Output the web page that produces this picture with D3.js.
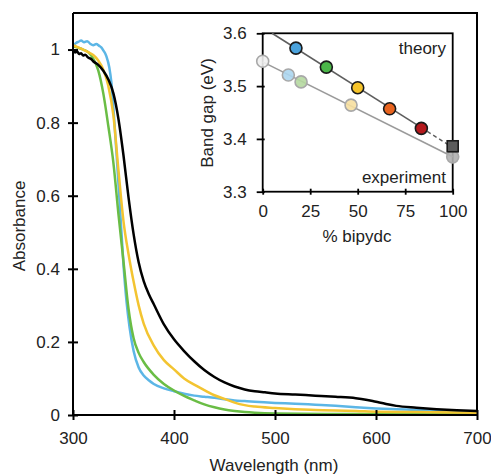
<!DOCTYPE html>
<html>
<head>
<meta charset="utf-8">
<script src="https://cdn.jsdelivr.net/npm/d3@7"></script>
<style>
  html, body { margin: 0; padding: 0; background: #fff; }
  svg { display: block; font-family: "Liberation Sans", Arial, sans-serif; }
</style>
</head>
<body>
<svg id="chart" width="491" height="474"></svg>
<script>
// ---------- Main chart data (absorbance spectra) ----------
const blueWavelength = [300,303,306,308,311,314,317,320,323,326,328,330,333,336,338,340,343,346,350,353,356,360,365,370,375,380,390,400,410,420,430,440,450,460,470,480,500,520,540,560,580,600,620,640,660,680,700];
const blueAbsorbance = [1.01,1.018,1.022,1.025,1.02,1.023,1.016,1.012,1.015,1.01,1.006,0.998,0.982,0.95,0.91,0.84,0.72,0.59,0.41,0.31,0.24,0.175,0.13,0.108,0.095,0.085,0.073,0.065,0.058,0.053,0.05,0.047,0.043,0.04,0.038,0.036,0.033,0.031,0.028,0.025,0.021,0.018,0.016,0.014,0.012,0.01,0.009];

const greenWavelength = [300,305,310,315,320,325,330,335,340,345,350,355,360,365,370,380,390,400,410,420,430,440,450,460,470,480,500,550,600,650,700];
const greenAbsorbance = [1.008,1.005,1.0,0.993,0.975,0.943,0.88,0.79,0.69,0.55,0.42,0.29,0.21,0.17,0.145,0.11,0.085,0.067,0.052,0.04,0.029,0.021,0.015,0.011,0.008,0.006,0.004,0.003,0.003,0.002,0.002];

const yellowWavelength = [300,305,310,315,320,325,330,335,340,345,350,355,360,365,370,380,390,400,410,420,430,440,450,460,470,480,500,520,540,560,580,600,640,700];
const yellowAbsorbance = [1.012,1.006,1.0,0.993,0.985,0.97,0.945,0.9,0.82,0.67,0.53,0.44,0.365,0.3,0.25,0.19,0.15,0.125,0.1,0.083,0.068,0.054,0.044,0.034,0.027,0.023,0.019,0.016,0.014,0.012,0.011,0.009,0.008,0.006];

const blackWavelength = [300,302,304,306,308,310,312,315,318,320,325,330,335,340,345,350,355,360,365,370,375,380,390,400,410,420,430,440,450,460,470,480,490,500,520,540,560,580,590,600,610,620,640,660,680,700];
const blackAbsorbance = [1.0,0.992,0.995,0.988,0.99,0.984,0.986,0.978,0.974,0.968,0.958,0.942,0.918,0.88,0.81,0.71,0.595,0.495,0.418,0.366,0.331,0.303,0.248,0.207,0.175,0.147,0.123,0.104,0.089,0.078,0.07,0.065,0.062,0.059,0.056,0.053,0.05,0.046,0.042,0.036,0.03,0.025,0.02,0.016,0.013,0.011];

const seriesNames = ["blue", "green", "yellow", "black"];
const seriesColors = ["#5cb6e6", "#6abd45", "#f3c431", "#000000"];

const xTicks = [300, 400, 500, 600, 700];
const yTicks = [0, 0.2, 0.4, 0.6, 0.8, 1];

// ---------- Inset data (band gap) ----------
const theoryPct = [17.5, 33.5, 50, 66.8, 83.5];
const theoryGap = [3.572, 3.536, 3.497, 3.457, 3.42];
const theoryColors = ["#4aa2dc", "#4bb649", "#f6c42a", "#e8641f", "#b4191d"];
const theoryEndPct = [100];
const theoryEndGap = [3.386];

const experimentPct = [0, 13.5, 20.2, 46.5, 100];
const experimentGap = [3.547, 3.521, 3.508, 3.464, 3.366];
const experimentColors = ["#f0f0f0", "#acd6f0", "#b5d8a0", "#f6dfa0", "#b0b0b0"];

const insetXTicks = [0, 25, 50, 75, 100];
const insetYTicks = [3.3, 3.4, 3.5, 3.6];

// ---------- Layout ----------
const svg = d3.select("#chart");
const W = 491, H = 474;
const m = { left: 73, top: 13, right: 14, bottom: 59 };

const x = d3.scaleLinear().domain([300, 700]).range([m.left, W - m.right]);
const y = d3.scaleLinear().domain([0, 1.1]).range([H - m.bottom, m.top]);

const FONT = 17;

// frame (top and right)
svg.append("path")
  .attr("d", `M${x(300)},${y(1.1)}H${x(700)}V${y(0)}`)
  .attr("fill", "none").attr("stroke", "#000").attr("stroke-width", 2);

// curves
const line = d3.line().x(d => x(d[0])).y(d => y(d[1])).curve(d3.curveMonotoneX);
const seriesData = [
  d3.zip(blueWavelength, blueAbsorbance),
  d3.zip(greenWavelength, greenAbsorbance),
  d3.zip(yellowWavelength, yellowAbsorbance),
  d3.zip(blackWavelength, blackAbsorbance)
];
seriesData.forEach((pts, i) => {
  svg.append("path")
    .datum(pts)
    .attr("class", "series " + seriesNames[i])
    .attr("d", line)
    .attr("fill", "none")
    .attr("stroke", seriesColors[i])
    .attr("stroke-width", 2.5)
    .attr("stroke-linejoin", "round");
});

// axes
const xAxis = svg.append("g")
  .attr("transform", `translate(0,${y(0)})`)
  .call(d3.axisBottom(x).tickValues(xTicks).tickSize(5).tickPadding(12).tickFormat(d3.format("d")));
xAxis.selectAll(".tick line").attr("y1", -5).attr("y2", 5);
const yAxis = svg.append("g")
  .attr("transform", `translate(${x(300)},0)`)
  .call(d3.axisLeft(y).tickValues(yTicks).tickSize(5).tickPadding(8).tickFormat(d3.format("~g")));
yAxis.selectAll(".tick line").attr("x1", -5).attr("x2", 5);

[xAxis, yAxis].forEach(g => {
  g.select(".domain").attr("stroke", "#000").attr("stroke-width", 2);
  g.selectAll(".tick line").attr("stroke", "#000").attr("stroke-width", 2);
  g.selectAll(".tick text").attr("font-size", FONT).attr("fill", "#222")
    .attr("font-family", "Liberation Sans, Arial, sans-serif");
});
xAxis.select(".domain").attr("d", `M${x(300)},0H${x(700)}`);
yAxis.select(".domain").attr("d", `M0,${y(0)}V${y(1.1)}`);

svg.append("text")
  .attr("transform", `translate(25,226) rotate(-90)`)
  .attr("text-anchor", "middle").attr("font-size", FONT).attr("fill", "#222")
  .text("Absorbance");
svg.append("text")
  .attr("x", 274).attr("y", 471)
  .attr("text-anchor", "middle").attr("font-size", FONT).attr("fill", "#222")
  .text("Wavelength (nm)");

// ---------- Inset ----------
const ix = d3.scaleLinear().domain([0, 100]).range([262.7, 452.7]);
const iy = d3.scaleLinear().domain([3.3, 3.6]).range([191.7, 33.3]);

svg.append("rect")
  .attr("x", ix(0)).attr("y", iy(3.6))
  .attr("width", ix(100) - ix(0)).attr("height", iy(3.3) - iy(3.6))
  .attr("fill", "#fff").attr("stroke", "#000").attr("stroke-width", 1.8);

function fit(xs, ys) {
  const mx = d3.mean(xs), my = d3.mean(ys);
  let num = 0, den = 0;
  xs.forEach((v, i) => { num += (v - mx) * (ys[i] - my); den += (v - mx) * (v - mx); });
  const b = num / den; const a = my - b * mx;
  return v => a + b * v;
}
const allTheoryPct = theoryPct.concat(theoryEndPct);
const allTheoryGap = theoryGap.concat(theoryEndGap);
const tf = fit(allTheoryPct, allTheoryGap);
const tStart = d3.scaleLinear().domain([tf(0), tf(100)]).range([0, 100])(3.6);
const tMid = theoryPct[theoryPct.length - 1];

const ef = fit(experimentPct, experimentGap);

svg.append("line")
  .attr("x1", ix(0)).attr("y1", iy(ef(0)))
  .attr("x2", ix(100)).attr("y2", iy(ef(100)))
  .attr("stroke", "#9b9b9b").attr("stroke-width", 1.6);
svg.append("line")
  .attr("x1", ix(tStart)).attr("y1", iy(tf(tStart)))
  .attr("x2", ix(tMid)).attr("y2", iy(tf(tMid)))
  .attr("stroke", "#5e5e5e").attr("stroke-width", 1.6);
svg.append("line")
  .attr("x1", ix(tMid)).attr("y1", iy(tf(tMid)))
  .attr("x2", ix(100)).attr("y2", iy(tf(100)))
  .attr("stroke", "#5e5e5e").attr("stroke-width", 1.4)
  .attr("stroke-dasharray", "4,3");

svg.append("g").selectAll("circle")
  .data(d3.zip(experimentPct, experimentGap, experimentColors))
  .join("circle")
  .attr("cx", d => ix(d[0])).attr("cy", d => iy(d[1])).attr("r", 6)
  .attr("fill", d => d[2]).attr("stroke", "#a8a8a8").attr("stroke-width", 1.6)
  .attr("fill-opacity", 0.9);

svg.append("g").selectAll("rect")
  .data(d3.zip(theoryEndPct, theoryEndGap))
  .join("rect")
  .attr("x", d => ix(d[0]) - 5.5).attr("y", d => iy(d[1]) - 5.5)
  .attr("width", 11).attr("height", 11)
  .attr("fill", "#5b5b5b").attr("stroke", "#1a1a1a").attr("stroke-width", 1.6);

svg.append("g").selectAll("circle")
  .data(d3.zip(theoryPct, theoryGap, theoryColors))
  .join("circle")
  .attr("cx", d => ix(d[0])).attr("cy", d => iy(d[1])).attr("r", 6)
  .attr("fill", d => d[2]).attr("stroke", "#1a1a1a").attr("stroke-width", 1.6);

const ixAxis = svg.append("g")
  .attr("transform", `translate(0,${iy(3.3)})`)
  .call(d3.axisBottom(ix).tickValues(insetXTicks).tickSize(3).tickPadding(10).tickFormat(d3.format("d")));
ixAxis.selectAll(".tick line").attr("y1", -3).attr("y2", 3);
const iyAxis = svg.append("g")
  .attr("transform", `translate(${ix(0)},0)`)
  .call(d3.axisLeft(iy).tickValues(insetYTicks).tickSize(6).tickPadding(10).tickFormat(d3.format(".1f")));
iyAxis.selectAll(".tick line").attr("x1", -6).attr("x2", 2);
[ixAxis, iyAxis].forEach(g => {
  g.select(".domain").remove();
  g.selectAll(".tick line").attr("stroke", "#000").attr("stroke-width", 1.8);
  g.selectAll(".tick text").attr("font-size", FONT).attr("fill", "#222")
    .attr("font-family", "Liberation Sans, Arial, sans-serif");
});

svg.append("text")
  .attr("x", 446).attr("y", 54)
  .attr("text-anchor", "end").attr("font-size", FONT).attr("fill", "#222")
  .text("theory");
svg.append("text")
  .attr("x", 446).attr("y", 183)
  .attr("text-anchor", "end").attr("font-size", FONT).attr("fill", "#222")
  .text("experiment");
svg.append("text")
  .attr("transform", `translate(213,113) rotate(-90)`)
  .attr("text-anchor", "middle").attr("font-size", FONT).attr("fill", "#222")
  .text("Band gap (eV)");
svg.append("text")
  .attr("x", 357).attr("y", 242)
  .attr("text-anchor", "middle").attr("font-size", FONT).attr("fill", "#222")
  .text("% bipydc");
</script>
</body>
</html>
